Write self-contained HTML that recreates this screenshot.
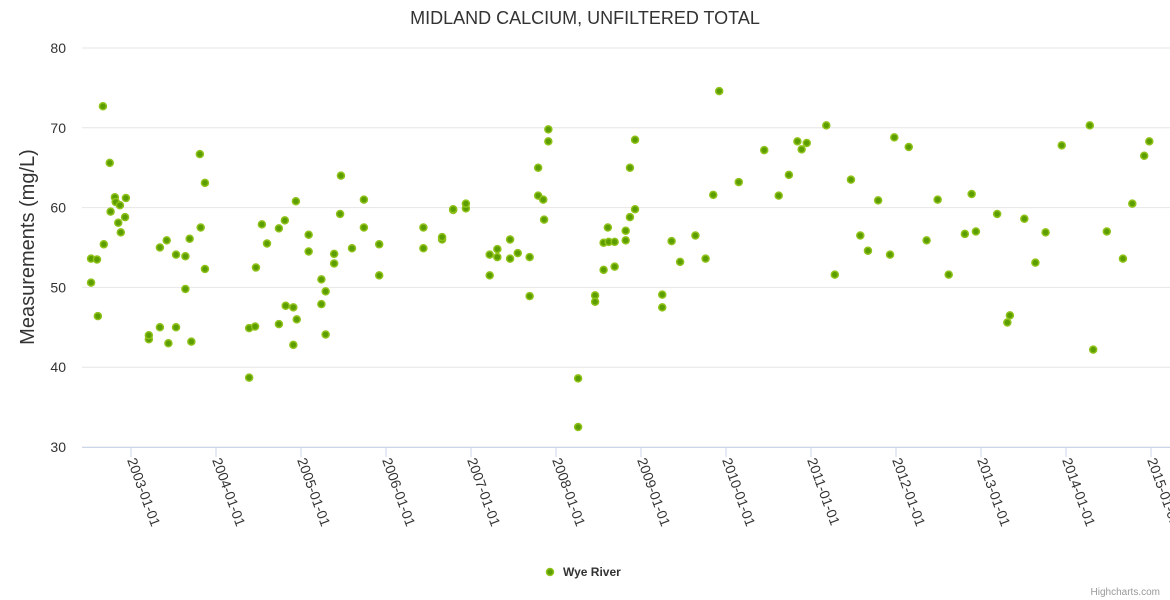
<!DOCTYPE html>
<html><head><meta charset="utf-8"><style>
body{margin:0;background:#fff;font-family:"Liberation Sans",sans-serif;}
svg{display:block}
</style></head><body>
<svg id="chart" width="1170" height="600">
<text x="585" y="24" text-anchor="middle" font-size="18" fill="#333">MIDLAND CALCIUM, UNFILTERED TOTAL</text>
<g id="grid"></g><g id="xaxis"></g><g id="yaxis"></g><g id="points"></g>
<text transform="translate(34,247) rotate(-90)" text-anchor="middle" font-size="20" fill="#333">Measurements (mg/L)</text>
<g>
<circle cx="550" cy="572" r="3.5" fill="#5c9e00" stroke="#8fc21a" stroke-width="1.5"/>
<text x="563" y="576" font-size="12" font-weight="bold" fill="#333">Wye River</text>
</g>
<text x="1160" y="595" text-anchor="end" font-size="10" fill="#999">Highcharts.com</text>
</svg>
<script>
const years=[2002.53,2002.53,2002.60,2002.61,2002.67,2002.68,2002.75,2002.76,2002.81,2002.82,2002.85,2002.87,2002.88,2002.93,2002.94,2003.21,2003.21,2003.34,2003.34,2003.42,2003.44,2003.53,2003.53,2003.64,2003.64,2003.69,2003.71,2003.81,2003.82,2003.87,2003.87,2004.39,2004.39,2004.46,2004.47,2004.54,2004.60,2004.74,2004.74,2004.81,2004.82,2004.91,2004.91,2004.94,2004.95,2005.09,2005.09,2005.24,2005.24,2005.29,2005.29,2005.39,2005.39,2005.46,2005.47,2005.60,2005.74,2005.74,2005.92,2005.92,2006.44,2006.44,2006.66,2006.66,2006.79,2006.79,2006.94,2006.94,2007.22,2007.22,2007.31,2007.31,2007.46,2007.46,2007.55,2007.69,2007.69,2007.79,2007.79,2007.85,2007.86,2007.91,2007.91,2008.26,2008.26,2008.46,2008.46,2008.56,2008.56,2008.61,2008.62,2008.69,2008.69,2008.82,2008.82,2008.87,2008.87,2008.93,2008.93,2009.25,2009.25,2009.36,2009.46,2009.64,2009.76,2009.85,2009.92,2010.15,2010.45,2010.62,2010.74,2010.84,2010.89,2010.95,2011.18,2011.28,2011.47,2011.58,2011.67,2011.79,2011.93,2011.98,2012.15,2012.36,2012.49,2012.62,2012.81,2012.89,2012.94,2013.19,2013.31,2013.34,2013.51,2013.64,2013.76,2013.95,2014.28,2014.32,2014.48,2014.67,2014.78,2014.92,2014.98];
const values=[50.6,53.6,53.5,46.4,72.7,55.4,65.6,59.5,61.3,60.7,58.1,60.3,56.9,58.8,61.2,43.5,44.0,45.0,55.0,55.9,43.0,45.0,54.1,49.8,53.9,56.1,43.2,66.7,57.5,63.1,52.3,44.9,38.7,45.1,52.5,57.9,55.5,45.4,57.4,58.4,47.7,42.8,47.5,60.8,46.0,56.6,54.5,51.0,47.9,44.1,49.5,53.0,54.2,59.2,64.0,54.9,61.0,57.5,55.4,51.5,54.9,57.5,56.0,56.3,59.7,59.8,59.9,60.5,54.1,51.5,54.8,53.8,56.0,53.6,54.3,53.8,48.9,65.0,61.5,61.0,58.5,68.3,69.8,38.6,32.5,49.0,48.2,52.2,55.6,57.5,55.7,55.7,52.6,57.1,55.9,58.8,65.0,68.5,59.8,49.1,47.5,55.8,53.2,56.5,53.6,61.6,74.6,63.2,67.2,61.5,64.1,68.3,67.3,68.1,70.3,51.6,63.5,56.5,54.6,60.9,54.1,68.8,67.6,55.9,61.0,51.6,56.7,61.7,57.0,59.2,45.6,46.5,58.6,53.1,56.9,67.8,70.3,42.2,57.0,53.6,60.5,66.5,68.3];
const yTicks=[30,40,50,60,70,80];
const xTicks=[2003,2004,2005,2006,2007,2008,2009,2010,2011,2012,2013,2014,2015];
const NS="http://www.w3.org/2000/svg";
const X0=82,X1=1170,Y0=447,Y1=48;
function xs(t){return 131+(t-2003)*85;}
function ys(v){return Y0-(v-30)/50*(Y0-Y1);}
function mk(tag,attrs,parent){const e=document.createElementNS(NS,tag);for(const k in attrs)e.setAttribute(k,attrs[k]);parent.appendChild(e);return e;}
const grid=document.getElementById('grid'),ya=document.getElementById('yaxis'),xa=document.getElementById('xaxis'),pts=document.getElementById('points');
yTicks.forEach(v=>{
  const l=mk('line',{x1:X0,x2:X1,y1:ys(v),y2:ys(v),stroke:'#e6e6e6','stroke-width':1},grid);
  
  
  const t=mk('text',{x:66,y:ys(v)+5,'text-anchor':'end','font-size':14,fill:'#333'},ya);
  t.textContent=v;
  
  
});
mk('line',{x1:X0,x2:X1,y1:Y0+0.5,y2:Y0+0.5,stroke:'#ccd6eb'},xa);
xTicks.forEach(yr=>{
  const x=xs(yr);
  const tk=mk('line',{x1:x,x2:x,y1:Y0,y2:Y0+10,stroke:'#ccd6eb'},xa);
  
  
  const t=mk('text',{transform:`translate(${x-4},${Y0+13}) rotate(70)`,'font-size':14,fill:'#333'},xa);
  t.textContent=yr+'-01-01';
  
  
});
years.forEach((t,i)=>{
  const c=mk('circle',{cx:xs(t),cy:ys(values[i]),r:3.5,fill:'#5c9e00',stroke:'#8fc21a','stroke-width':1.5},pts);
  
  
});
</script>
</body></html>
